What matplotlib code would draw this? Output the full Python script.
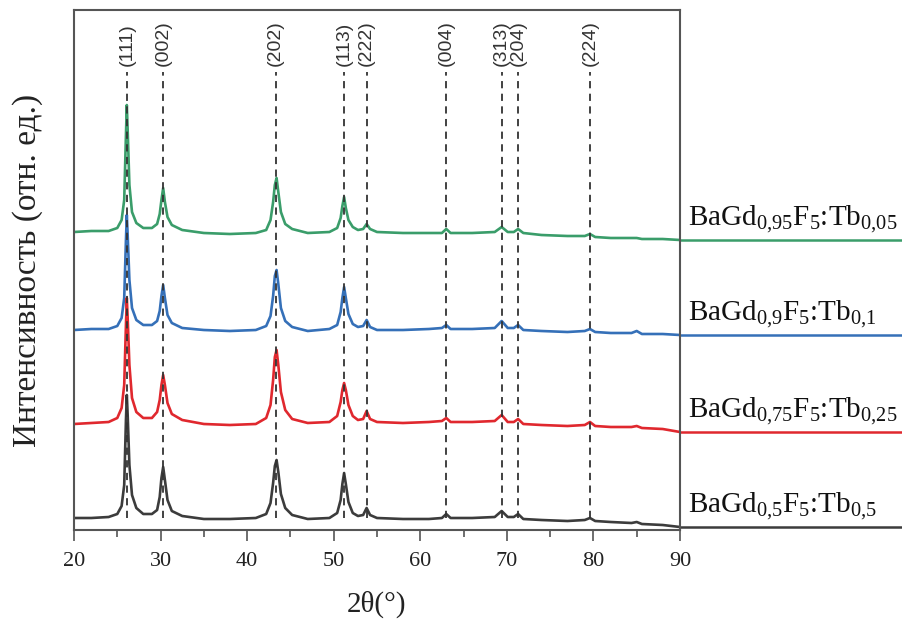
import numpy as np
import matplotlib
matplotlib.use("Agg")
import matplotlib.pyplot as plt

plt.rcParams['font.family'] = ['Liberation Serif', 'DejaVu Serif']
plt.rcParams['mathtext.fontset'] = 'custom'
plt.rcParams['mathtext.rm'] = 'Liberation Serif'
plt.rcParams['mathtext.it'] = 'Liberation Serif:italic'

# ----------- данные -----------
two_theta = [20, 22, 24, 25.0, 25.5, 25.8, 26.0, 26.1, 26.2, 26.4,
             26.7, 27.2, 28.0, 29.0, 29.6, 29.9, 30.1, 30.3, 30.5, 30.8,
             31.3, 32.5, 35, 38, 41, 42.2, 42.7, 43.0, 43.2, 43.4,
             43.6, 43.9, 44.4, 45.2, 47, 49.5, 50.4, 50.8, 51.0, 51.2,
             51.4, 51.7, 52.2, 52.8, 53.4, 53.8, 54.2, 55, 58, 61,
             62.5, 63.0, 63.5, 66, 68.6, 69.4, 70.1, 70.8, 71.3, 71.9,
             74, 77, 79.0, 79.6, 80.2, 82, 84.4, 85.0, 85.6, 88,
             90]

# интенсивность (отн. ед., уже со сдвигом по вертикали)
I_005 = [298, 299, 299, 302, 310, 330, 395, 425, 400, 345,
         318, 307, 302, 302, 306, 316, 330, 342, 328, 313,
         305, 300, 297, 296, 297, 300, 310, 328, 345, 352,
         338, 318, 306, 301, 297, 298, 302, 312, 324, 333,
         322, 310, 303, 300, 301, 306, 301, 298, 297, 297,
         297, 301, 297, 297, 298, 303, 298, 298, 301, 297,
         295, 294, 294, 296, 293, 292, 292, 292, 291, 291,
         290]
I_01 = [200, 201, 201, 204, 212, 232, 290, 315, 295, 250,
        222, 210, 205, 205, 209, 219, 234, 245, 232, 215,
        207, 202, 200, 199, 200, 204, 214, 234, 254, 260,
        246, 222, 209, 203, 199, 201, 205, 218, 232, 243,
        232, 216, 206, 203, 204, 210, 203, 200, 200, 201,
        202, 205, 201, 201, 202, 209, 202, 202, 205, 200,
        199, 198, 199, 201, 198, 197, 197, 199, 196, 196,
        195]
I_025 = [106, 107, 108, 112, 122, 145, 205, 232, 212, 165,
         132, 118, 112, 112, 118, 130, 145, 155, 145, 127,
         116, 110, 106, 105, 106, 112, 125, 150, 173, 180,
         165, 138, 120, 111, 107, 108, 114, 128, 140, 147,
         140, 125, 114, 110, 111, 119, 111, 108, 107, 108,
         109, 112, 108, 108, 109, 115, 108, 108, 111, 106,
         105, 104, 105, 108, 104, 103, 103, 104, 102, 101,
         98]
I_05 = [12, 12, 13, 16, 24, 45, 110, 135, 115, 65,
        35, 22, 16, 16, 20, 33, 52, 63, 50, 30,
        19, 14, 11, 11, 12, 16, 27, 47, 64, 70,
        58, 36, 22, 15, 11, 12, 17, 30, 46, 57,
        46, 28, 17, 14, 15, 22, 15, 12, 11, 11,
        12, 16, 12, 12, 13, 19, 13, 13, 16, 11,
        10, 9, 10, 12, 9, 8, 7, 8, 6, 5,
        3]

samples = [r'BaGd$_{\mathrm{0{,}95}}$F$_{\mathrm{5}}$:Tb$_{\mathrm{0{,}05}}$',
           r'BaGd$_{\mathrm{0{,}9}}$F$_{\mathrm{5}}$:Tb$_{\mathrm{0{,}1}}$',
           r'BaGd$_{\mathrm{0{,}75}}$F$_{\mathrm{5}}$:Tb$_{\mathrm{0{,}25}}$',
           r'BaGd$_{\mathrm{0{,}5}}$F$_{\mathrm{5}}$:Tb$_{\mathrm{0{,}5}}$']
colors = ['#3a9d6a', '#3570b8', '#e0282e', '#3c3c3c']

hkl = ['(111)', '(002)', '(202)', '(113)', '(222)', '(004)', '(313)', '(204)', '(224)']
hkl_pos = [26.1, 30.3, 43.3, 51.2, 53.8, 63.0, 69.4, 71.3, 79.6]
# ----------- end -----------

fig = plt.figure(figsize=(9.02, 6.23), dpi=100)
ax = fig.add_axes([74 / 902, 1 - 530 / 623, 606 / 902, 520 / 623])

for I, c, name in zip([I_005, I_01, I_025, I_05], colors, samples):
    ax.plot(two_theta, I, color=c, lw=1.9, zorder=2)
    # линия-подпись справа, выходит за пределы осей
    ax.plot([90, 116], [I[-1], I[-1]], color=c, lw=1.8, clip_on=False)
    ax.text(90.9, I[-1] + 5, name, fontsize=21, color='#111', va='bottom', ha='left',
            clip_on=False)

ax.vlines(hkl_pos, 12, 458, colors='#333333', linestyles=(0, (4, 3)), lw=1.3, zorder=3)
for lab, x in zip(hkl, hkl_pos):
    ax.text(x, 464, lab, rotation=90, ha='center', va='bottom', fontsize=14,
            color='#333333', family=['Liberation Sans', 'DejaVu Sans'])

ax.set_xlim(20, 90)
ax.set_ylim(0, 520)
ax.set_xticks(np.arange(20, 91, 10))
ax.set_xticks(np.arange(25, 90, 10), minor=True)
ax.set_yticks([])
ax.tick_params(axis='x', which='major', length=8, width=1.2, colors='#555555',
               labelsize=16, labelcolor='#222222', pad=8)
ax.tick_params(axis='x', which='minor', length=5, width=1.2, colors='#555555')
for s in ax.spines.values():
    s.set_color('#555555')
    s.set_linewidth(1.5)

ax.set_xlabel('2θ(°)', fontsize=21, color='#222222', labelpad=14)
ax.set_ylabel('Интенсивность (отн. ед.)', fontsize=24, color='#222222', labelpad=22)

plt.savefig('out.png', dpi=100)
